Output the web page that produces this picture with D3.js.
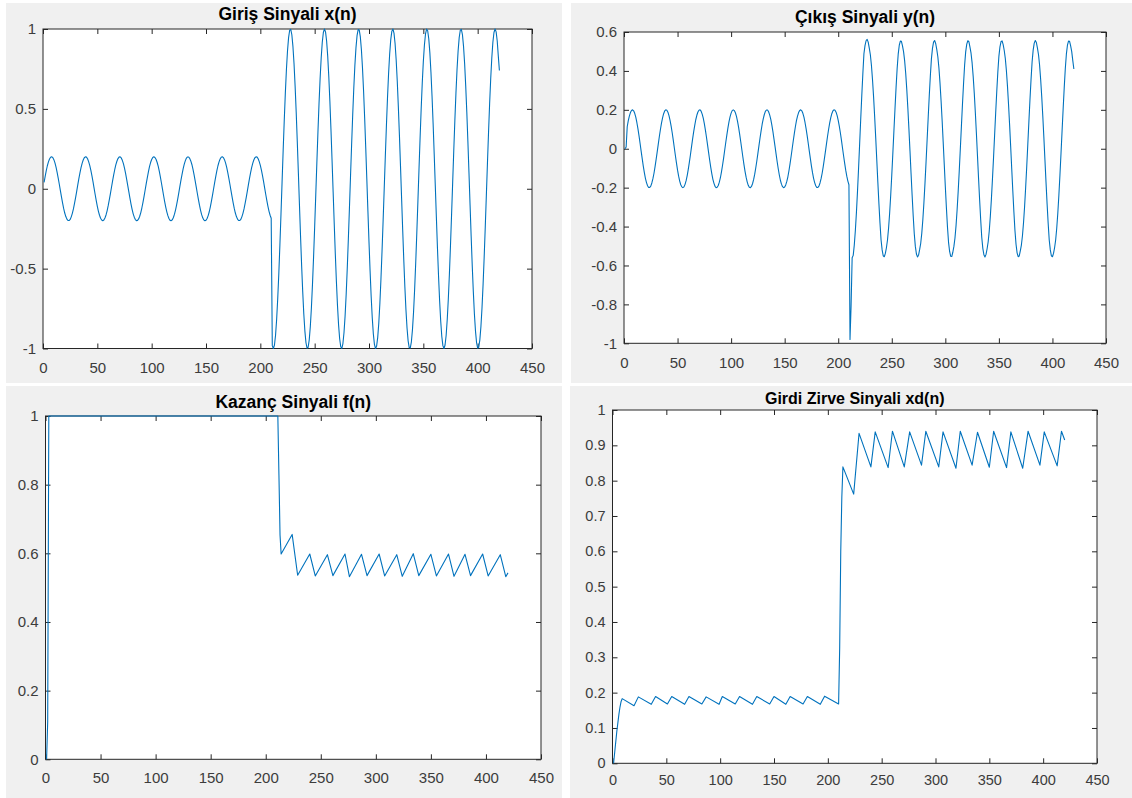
<!DOCTYPE html>
<html><head><meta charset="utf-8">
<script src="https://cdn.jsdelivr.net/npm/d3@7"></script>
<style>
html,body{margin:0;padding:0;background:#fff;}
svg{display:block;font-family:"Liberation Sans",Arial,Helvetica,sans-serif;}
</style></head><body>
<svg id="chart" width="1132" height="798"></svg>
<script>
// x(n), n = 1..420
const inputSignal = [
.04,.078,.113,.144,.168,.186,.197,.2,.195,.182,.162,.135,.103,.067,.028,-.012,-.051,-.089,-.123,-.152,-.174,-.19,-.199,-.199,-.192,-.176,-.154,-.126,-.092,-.055,-.016,
.024,.063,.099,.132,.159,.18,.194,.2,.198,.188,.17,.146,.116,.082,.044,.004,-.036,-.074,-.11,-.141,-.166,-.185,-.196,-.2,-.196,-.183,-.164,-.138,-.106,-.07,-.032,
.008,.048,.085,.119,.149,.172,.189,.198,.2,.193,.178,.157,.129,.096,.059,.02,-.02,-.059,-.096,-.129,-.157,-.178,-.193,-.2,-.198,-.189,-.172,-.149,-.119,-.085,-.048,-.008,
.032,.07,.106,.138,.164,.183,.196,.2,.196,.185,.166,.141,.11,.074,.036,-.004,-.044,-.082,-.116,-.146,-.17,-.188,-.198,-.2,-.194,-.18,-.159,-.132,-.099,-.063,-.024,
.016,.055,.092,.126,.154,.176,.192,.199,.199,.19,.174,.152,.123,.089,.051,.012,-.028,-.067,-.103,-.135,-.162,-.182,-.195,-.2,-.197,-.186,-.168,-.144,-.113,-.078,-.04,
0,
.04,.078,.113,.144,.168,.186,.197,.2,.195,.182,.162,.135,.103,.067,.028,-.012,-.051,-.089,-.123,-.152,-.174,-.19,-.199,-.199,-.192,-.176,-.154,-.126,-.092,-.055,-.016,
.024,.063,.099,.132,.159,.18,.194,.2,.198,.188,.17,.146,.116,.082,.044,.004,-.036,-.074,-.11,-.141,-.166,-.185,
-.982,-1,-.978,-.917,-.819,-.689,-.532,-.352,-.159,
.04,.238,.426,.597,.745,.862,.946,.992,.998,.964,.891,.784,.644,.48,.296,.1,-.1,-.296,-.48,-.644,-.784,-.891,-.964,-.998,-.992,-.946,-.862,-.745,-.597,-.426,-.238,-.04,
.159,.352,.532,.689,.819,.917,.978,1,.982,.925,.83,.703,.548,.371,.179,-.02,-.218,-.408,-.581,-.731,-.852,-.939,-.989,-.999,-.969,-.9,-.796,-.66,-.497,-.315,-.12,
.08,.276,.462,.629,.771,.882,.958,.996,.994,.952,.872,.758,.613,.444,.257,.06,-.14,-.334,-.514,-.674,-.808,-.909,-.974,-1,-.985,-.932,-.842,-.718,-.565,-.39,-.199,
0,
.199,.39,.565,.718,.842,.932,.985,1,.974,.909,.808,.674,.514,.334,.14,-.06,-.257,-.444,-.613,-.758,-.872,-.952,-.994,-.996,-.958,-.882,-.771,-.629,-.462,-.276,-.08,
.12,.315,.497,.66,.796,.9,.969,.999,.989,.939,.852,.731,.581,.408,.218,.02,-.179,-.371,-.548,-.703,-.83,-.925,-.982,-1,-.978,-.917,-.819,-.689,-.532,-.352,-.159,
.04,.238,.426,.597,.745,.862,.946,.992,.998,.964,.891,.784,.644,.48,.296,.1,-.1,-.296,-.48,-.644,-.784,-.891,-.964,-.998,-.992,-.946,-.862,-.745,-.597,-.426,-.238,-.04,
.159,.352,.532,.689,.819,.917,.978,1,.982,.925,.83,.74
];

// y(n), n = 1..420
const outputSignal = [
0,.009,.113,.144,.168,.186,.197,.2,.195,.182,.162,.135,.103,.067,.028,-.012,-.051,-.089,-.123,-.152,-.174,-.19,-.199,-.199,-.192,-.176,-.154,-.126,-.092,-.055,-.016,
.024,.063,.099,.132,.159,.18,.194,.2,.198,.188,.17,.146,.116,.082,.044,.004,-.036,-.074,-.11,-.141,-.166,-.185,-.196,-.2,-.196,-.183,-.164,-.138,-.106,-.07,-.032,
.008,.048,.085,.119,.149,.172,.189,.198,.2,.193,.178,.157,.129,.096,.059,.02,-.02,-.059,-.096,-.129,-.157,-.178,-.193,-.2,-.198,-.189,-.172,-.149,-.119,-.085,-.048,-.008,
.032,.07,.106,.138,.164,.183,.196,.2,.196,.185,.166,.141,.11,.074,.036,-.004,-.044,-.082,-.116,-.146,-.17,-.188,-.198,-.2,-.194,-.18,-.159,-.132,-.099,-.063,-.024,
.016,.055,.092,.126,.154,.176,.192,.199,.199,.19,.174,.152,.123,.089,.051,.012,-.028,-.067,-.103,-.135,-.162,-.182,-.195,-.2,-.197,-.186,-.168,-.144,-.113,-.078,-.04,
0,
.04,.078,.113,.144,.168,.186,.197,.2,.195,.182,.162,.135,.103,.067,.028,-.012,-.051,-.089,-.123,-.152,-.174,-.19,-.199,-.199,-.192,-.176,-.154,-.126,-.092,-.055,-.016,
.024,.063,.099,.132,.159,.18,.194,.2,.198,.188,.17,.146,.116,.082,.044,.004,-.036,-.074,-.11,-.141,-.166,-.185,
-.98,-.81,-.56,
-.548,-.495,-.42,-.327,-.219,-.1,.025,.152,.274,.387,.488,.53,.555,.562,.548,.517,
.483,.429,.356,.268,.167,.057,-.058,-.173,-.283,-.383,-.469,-.52,-.55,-.555,-.538,-.509,-.469,-.409,-.332,-.239,-.135,-.023,
.092,.206,.314,.411,.486,.532,.553,.552,.529,.499,.453,.388,.305,.209,.102,-.012,-.127,-.239,-.344,-.437,-.502,-.541,-.556,-.547,-.519,-.487,-.435,-.365,-.278,-.178,-.068,
.046,.161,.272,.374,.462,.516,.548,.556,.541,.511,.473,.416,.34,.249,.146,.034,-.081,-.195,-.303,-.402,-.481,-.528,-.553,-.554,-.532,-.502,-.459,-.395,-.314,-.219,-.113,
0,
.115,.229,.334,.429,.498,.538,.555,.55,.522,.491,.441,.372,.287,.188,.08,-.035,-.15,-.261,-.364,-.455,-.512,-.545,-.556,-.543,-.514,-.478,-.423,-.348,-.259,-.156,-.046,
.069,.184,.293,.393,.475,.524,.551,.554,.535,.505,.464,.402,.323,.229,.124,.011,-.104,-.217,-.324,-.42,-.491,-.535,-.555,-.551,-.525,-.495,-.447,-.38,-.297,-.198,-.091,
.023,.138,.25,.354,.446,.507,.543,.556,.546,.517,.483,.429,.356,.268,.167,.057,-.058,-.173,-.283,-.383,-.469,-.52,-.55,-.555,-.538,-.509,-.469,-.409,-.332,-.239,-.135,-.023,
.092,.206,.314,.411,.486,.532,.553,.552,.529,.499,.453,.41
];

// f(n): vertices (sample index, value)
const gainN = [1,2,3,211,212,213,214,224,229,240,245,256,261,272,276,287,292,303,308,319,324,334,339,350,355,366,371,381,386,397,402,413,418,420];
const gainV = [0,.11,1,1,.828,.653,.598,.655,.536,.598,.534,.596,.535,.598,.532,.597,.535,.598,.534,.596,.533,.599,.535,.597,.534,.598,.533,.597,.535,.598,.534,.596,.532,.543];

// xd(n): vertices (sample index, value)
const peakN = [1,2,3,4,5,6,7,8,9,20,24,36,40,51,55,67,71,83,87,99,102,114,118,130,134,146,150,161,165,177,181,193,197,210,211,212,213,214,224,229,240,244,256,260,271,276,287,291,303,307,319,323,334,339,350,354,366,370,381,386,397,401,413,417,420];
const peakV = [0,.03,.06,.09,.115,.14,.16,.175,.183,.163,.188,.167,.189,.168,.189,.167,.189,.168,.188,.167,.189,.168,.189,.167,.189,.168,.189,.167,.189,.168,.189,.167,.19,.168,.326,.6,.754,.839,.762,.934,.839,.938,.837,.94,.839,.938,.844,.94,.839,.938,.835,.94,.844,.937,.838,.94,.837,.938,.835,.94,.844,.938,.842,.94,.915];

const xTicks = [0,50,100,150,200,250,300,350,400,450];
const ticksInput = [-1,-0.5,0,0.5,1];
const ticksOutput = [-1,-0.8,-0.6,-0.4,-0.2,0,0.2,0.4,0.6];
const ticksGain = [0,0.2,0.4,0.6,0.8,1];
const ticksPeak = [0,0.1,0.2,0.3,0.4,0.5,0.6,0.7,0.8,0.9,1];
const titles = ["Giriş Sinyali x(n)","Çıkış Sinyali y(n)","Kazanç Sinyali f(n)","Girdi Zirve Sinyali xd(n)"];

const svg = d3.select('#chart');
const LINE = '#0072BD', AX = '#262626', TXT = '#3c3c3c';

const panels = [
  {bg:[6,3,556,380], x0:43, x1:532, y0:29, y1:348.5, dom:[-1,1], yt:ticksInput, title:titles[0], tb:19.5, ts:17.5, fs:15, xpad:14,
   data: inputSignal.map((v,i)=>[i+1,v])},
  {bg:[571,3,561,380], x0:624, x1:1106, y0:32, y1:343.3, dom:[-1,0.6], yt:ticksOutput, title:titles[1], tb:22.5, ts:17.5, fs:15, xpad:14,
   data: outputSignal.map((v,i)=>[i+1,v])},
  {bg:[6,386,556,412], x0:45.5, x1:541, y0:416, y1:759.3, dom:[0,1], yt:ticksGain, title:titles[2], tb:407.5, ts:17.5, fs:15, xpad:13,
   data: gainN.map((n,i)=>[n,gainV[i]])},
  {bg:[570,386,562,412], x0:612.5, x1:1097, y0:410, y1:763.3, dom:[0,1], yt:ticksPeak, title:titles[3], tb:403.5, ts:16, fs:14.5, xpad:11,
   data: peakN.map((n,i)=>[n,peakV[i]])}
];

const fmt = d => String(+(+d).toFixed(2));

panels.forEach((p,k)=>{
  const g = svg.append('g');
  g.append('rect').attr('x',p.bg[0]).attr('y',p.bg[1]).attr('width',p.bg[2]).attr('height',p.bg[3]).attr('fill','#f0f0f0');
  const x = d3.scaleLinear().domain([0,450]).range([p.x0,p.x1]);
  const y = d3.scaleLinear().domain(p.dom).range([p.y1,p.y0]);
  g.append('rect').attr('x',p.x0).attr('y',p.y0).attr('width',p.x1-p.x0).attr('height',p.y1-p.y0).attr('fill','#fff');

  const axB = g.append('g').attr('transform',`translate(0,${p.y1})`)
    .call(d3.axisBottom(x).tickValues(xTicks).tickSizeInner(-5).tickSizeOuter(0).tickPadding(p.xpad).tickFormat(fmt));
  const axT = g.append('g').attr('transform',`translate(0,${p.y0})`)
    .call(d3.axisTop(x).tickValues(xTicks).tickSizeInner(-5).tickSizeOuter(0).tickFormat(''));
  const axL = g.append('g').attr('transform',`translate(${p.x0},0)`)
    .call(d3.axisLeft(y).tickValues(p.yt).tickSizeInner(-5).tickSizeOuter(0).tickPadding(7).tickFormat(fmt));
  const axR = g.append('g').attr('transform',`translate(${p.x1},0)`)
    .call(d3.axisRight(y).tickValues(p.yt).tickSizeInner(-5).tickSizeOuter(0).tickFormat(''));
  [axB,axT,axL,axR].forEach(a=>{
    a.attr('font-family',null).attr('font-size',p.fs).attr('color',AX);
    a.select('.domain').remove();
    a.selectAll('text').attr('fill',TXT);
  });

  g.append('rect').attr('x',p.x0).attr('y',p.y0).attr('width',p.x1-p.x0).attr('height',p.y1-p.y0)
    .attr('fill','none').attr('stroke',AX).attr('stroke-width',1);

  const cid = 'clip'+k;
  g.append('clipPath').attr('id',cid).append('rect')
    .attr('x',p.x0-1).attr('y',p.y0-1).attr('width',p.x1-p.x0+2).attr('height',p.y1-p.y0+2);
  const line = d3.line().x(d=>x(d[0])).y(d=>y(d[1]));
  g.append('path').datum(p.data).attr('clip-path',`url(#${cid})`)
    .attr('d',line).attr('fill','none').attr('stroke',LINE).attr('stroke-width',1.1).attr('stroke-linejoin','round');

  g.append('text').attr('x',(p.x0+p.x1)/2).attr('y',p.tb).attr('text-anchor','middle')
    .attr('font-weight','bold').attr('font-size',p.ts).attr('fill','#000').text(p.title);
});
</script>
</body></html>
